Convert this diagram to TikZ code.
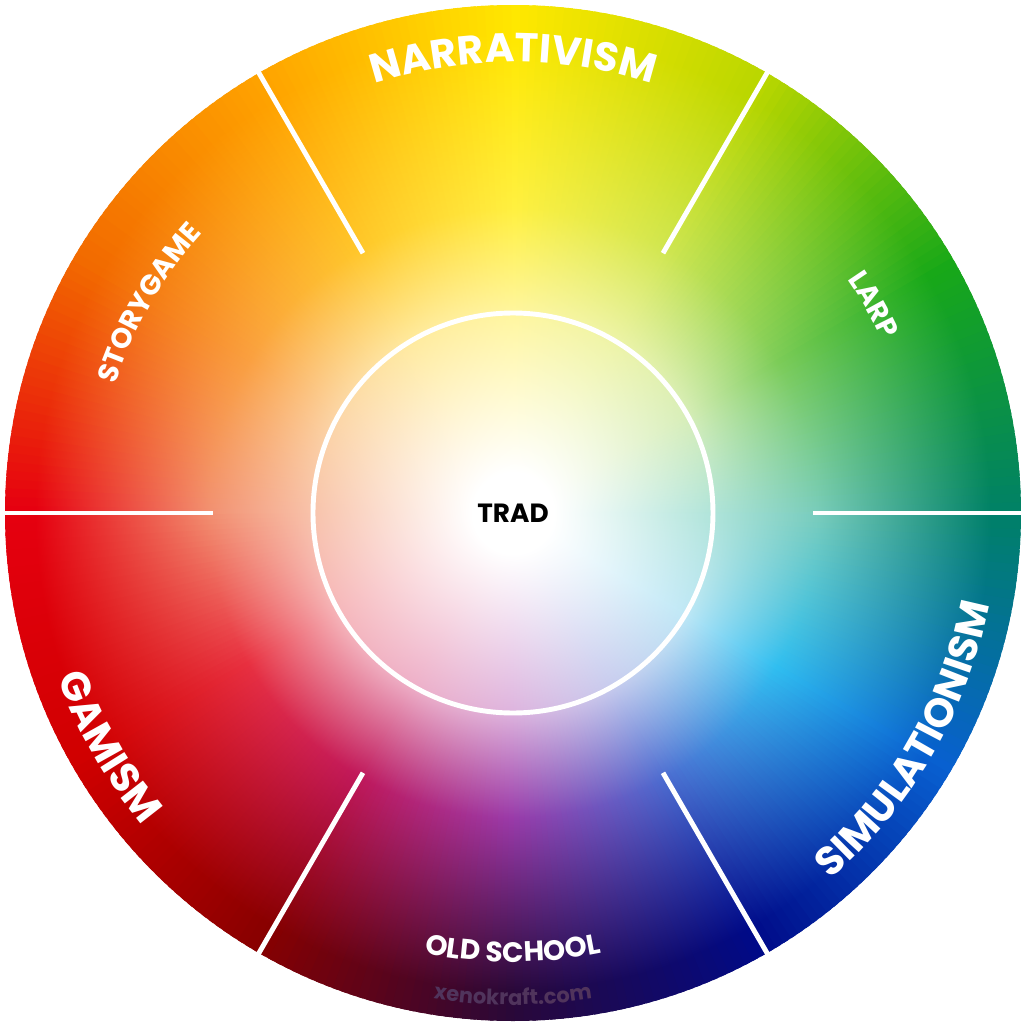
\documentclass[tikz,border=0pt]{standalone}
\usepackage{fontspec}
\setmainfont{Poppins}
\usetikzlibrary{decorations.text}

% colours of the wheel, every 30 degrees (edge, middle ring, inner ring)
\definecolor{E0}{HTML}{008068}\definecolor{M0}{HTML}{78CCBC}\definecolor{I0}{HTML}{B0E4DA}
\definecolor{E1}{HTML}{18A818}\definecolor{M1}{HTML}{7CCC58}\definecolor{I1}{HTML}{D8EEB8}
\definecolor{E2}{HTML}{B8D600}\definecolor{M2}{HTML}{D0E650}\definecolor{I2}{HTML}{EEF4A8}
\definecolor{E3}{HTML}{FFE800}\definecolor{M3}{HTML}{FFF040}\definecolor{I3}{HTML}{FFF6A0}
\definecolor{E4}{HTML}{FFA400}\definecolor{M4}{HTML}{FFC82A}\definecolor{I4}{HTML}{FFEBA0}
\definecolor{E5}{HTML}{F26A00}\definecolor{M5}{HTML}{FAA040}\definecolor{I5}{HTML}{FCD8A8}
\definecolor{E6}{HTML}{E60010}\definecolor{M6}{HTML}{F29070}\definecolor{I6}{HTML}{F8C4AC}
\definecolor{E7}{HTML}{D00000}\definecolor{M7}{HTML}{E83040}\definecolor{I7}{HTML}{F6B8BC}
\definecolor{E8}{HTML}{880000}\definecolor{M8}{HTML}{C0185A}\definecolor{I8}{HTML}{EEB0C8}
\definecolor{E9}{HTML}{2A0838}\definecolor{M9}{HTML}{9A3AA8}\definecolor{I9}{HTML}{DEB4DE}
\definecolor{E10}{HTML}{000A88}\definecolor{M10}{HTML}{4C6CD0}\definecolor{I10}{HTML}{C8CCEE}
\definecolor{E11}{HTML}{0860D0}\definecolor{M11}{HTML}{30BEF0}\definecolor{I11}{HTML}{C0E8F6}
\colorlet{E12}{E0}\colorlet{M12}{M0}\colorlet{I12}{I0}

\colorlet{cI}{white}\colorlet{cM}{white}\colorlet{cE}{white}
\pgfdeclareradialshading[cI,cM,cE]{wheel}{\pgfpoint{0bp}{0bp}}{%
  color(0bp)=(white); color(2bp)=(white); color(9.75bp)=(cI);
  color(15bp)=(cM); color(23.5bp)=(cE); color(50bp)=(cE)}

\newcommand\bigfont{\fontsize{11.5}{12}\selectfont\bfseries}
\newcommand\smallfont{\fontsize{8}{9}\selectfont\bfseries}

\tikzset{
  biglabel/.style={decorate,decoration={text along path,text align=center,
      text color=white,text={|\bigfont|#1}}},
  smalllabel/.style={decorate,decoration={text along path,text align=center,
      text color=white,text={|\smallfont|#1}}},
  divider/.style={white,line width=1.4pt},
}

\begin{document}
\begin{tikzpicture}[x=0.1mm,y=0.1mm]
\fill[white] (-513,-513) rectangle (513,513);
\useasboundingbox (-513,-513) rectangle (513,513);
\foreach \a in {0,...,359}{
  \pgfmathtruncatemacro{\k}{\a/30}
  \pgfmathtruncatemacro{\kk}{\k+1}
  \pgfmathtruncatemacro{\p}{100-(\a-30*\k)*10/3}
  \colorlet{cE}{E\k!\p!E\kk}
  \colorlet{cM}{M\k!\p!M\kk}
  \colorlet{cI}{I\k!\p!I\kk}
  \begin{scope}
    \clip (0,0) -- (\a-0.8:530) arc[start angle=\a-0.8,end angle=\a+0.8,radius=530] -- cycle;
    \shade[shading=wheel] (0,0) circle (508);
  \end{scope}
}
\draw[divider] (0,0) circle (200);
\foreach \t in {0,60,...,300}
  \draw[divider] (\t:300) -- (\t:512);
\node[font=\fontsize{7.5}{9}\selectfont\bfseries] (trad) at (0,0) {TRAD};
\path[biglabel=NARRATIVISM] (150:451) arc[start angle=150,end angle=30,radius=451];
\path[biglabel=GAMISM] (180:484) arc[start angle=180,end angle=240,radius=484];
\path[biglabel=SIMULATIONISM] (300:485) arc[start angle=300,end angle=360,radius=485];
\path[smalllabel=STORYGAME] (170:418) arc[start angle=170,end angle=130,radius=418];
\path[smalllabel=LARP] (50:408) arc[start angle=50,end angle=10,radius=408];
\path[smalllabel=OLD SCHOOL] (240:449) arc[start angle=240,end angle=300,radius=449];
\path[decorate,decoration={text along path,text align=center,text color=white!18!E9,
    text={|\fontsize{6}{7}\selectfont\bfseries|xenokraft.com}}]
  (250:492) arc[start angle=250,end angle=290,radius=492];
\end{tikzpicture}
\end{document}
